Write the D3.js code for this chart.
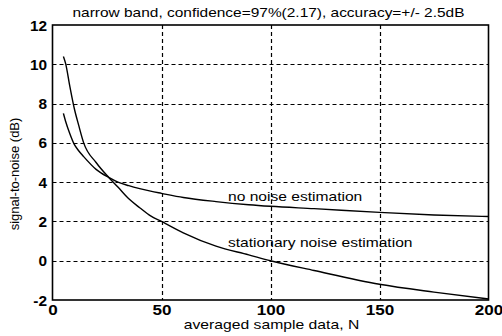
<!DOCTYPE html>
<html>
<head>
<meta charset="utf-8">
<script src="https://cdn.jsdelivr.net/npm/d3@7"></script>
<style>
  html, body { margin: 0; padding: 0; background: #fff; }
  svg { display: block; }
  text { font-family: "Liberation Sans", Arial, sans-serif; fill: #000; }
</style>
</head>
<body>
<svg id="chart" width="502" height="336"></svg>
<script>
// Averaged sample count N at which each curve is sampled
const sampleN = [5, 6, 8, 10, 12, 14.3, 20, 25.8, 30, 35, 40, 45, 50, 60, 75, 90, 100, 120, 150, 175, 200];

// Signal-to-noise (dB) with stationary noise estimation
const stationarySNR = [10.4, 10.05, 8.85, 7.75, 6.9, 6.0, 5.0, 4.24, 3.75, 3.15, 2.7, 2.28, 2.0, 1.42, 0.74, 0.3, 0.0, -0.5, -1.2, -1.6, -1.95];

// Signal-to-noise (dB) with no noise estimation
const noEstimationSNR = [7.5, 7.1, 6.45, 5.92, 5.6, 5.3, 4.65, 4.24, 4.0, 3.82, 3.67, 3.54, 3.43, 3.22, 3.01, 2.85, 2.77, 2.65, 2.46, 2.33, 2.25];

const xTicks = [0, 50, 100, 150, 200];
const yTicks = [-2, 0, 2, 4, 6, 8, 10, 12];

const titleText = "narrow band, confidence=97%(2.17), accuracy=+/- 2.5dB";
const xLabel = "averaged sample data, N";
const yLabel = "signal-to-noise (dB)";
const curveLabels = ["no noise estimation", "stationary noise estimation"];

const svg = d3.select("#chart");
const margin = { left: 52.5, right: 13.5, top: 25, bottom: 36 };
const W = 502, H = 336;
const x = d3.scaleLinear().domain([0, 200]).range([margin.left, W - margin.right]);
const y = d3.scaleLinear().domain([-2, 12]).range([H - margin.bottom, margin.top]);

// Text with a slightly wide face: draw at (px, py) and widen horizontally by sx
function wideText(parent, px, py, str, size, sx, anchor, weight) {
  return parent.append("text")
    .attr("transform", `translate(${px},${py}) scale(${sx},1)`)
    .attr("text-anchor", anchor || "start")
    .attr("font-size", size)
    .attr("font-weight", weight || "normal")
    .text(str);
}

// Dashed grid
const grid = svg.append("g").attr("stroke", "#000").attr("stroke-width", 1.2).attr("stroke-dasharray", "4,3");
grid.selectAll("line.h").data(yTicks.slice(1, -1)).join("line")
  .attr("x1", x(0)).attr("x2", x(200))
  .attr("y1", d => Math.round(y(d)) + 0.5).attr("y2", d => Math.round(y(d)) + 0.5);
grid.selectAll("line.v").data(xTicks.slice(1, -1)).join("line")
  .attr("y1", y(12)).attr("y2", y(-2))
  .attr("x1", d => Math.round(x(d)) + 0.5).attr("x2", d => Math.round(x(d)) + 0.5);

// Axes: tick labels are placed by the axis generator, then widened
const xAxis = d3.axisBottom(x).tickValues(xTicks).tickSize(0).tickPadding(0).tickFormat(d => String(d));
const yAxis = d3.axisLeft(y).tickValues(yTicks).tickSize(0).tickPadding(0).tickFormat(d => String(d));
const gx = svg.append("g").attr("transform", `translate(0,${y(-2)})`).call(xAxis);
const gy = svg.append("g").attr("transform", `translate(${x(0)},0)`).call(yAxis);
[gx, gy].forEach(g => {
  g.select(".domain").remove();
  g.selectAll("text").attr("font-family", "Liberation Sans, Arial, sans-serif")
    .attr("font-size", 14).attr("font-weight", "bold").attr("fill", "#000")
    .attr("dy", null).attr("x", null).attr("y", null);
});
gx.selectAll("text").attr("transform", "translate(0,15) scale(1.22,1)").attr("text-anchor", "middle");
gy.selectAll("text").attr("transform", "translate(-5.5,5) scale(1.1,1)").attr("text-anchor", "end");

// Plot frame
svg.append("rect")
  .attr("x", x(0)).attr("y", y(12))
  .attr("width", x(200) - x(0)).attr("height", y(-2) - y(12))
  .attr("fill", "none").attr("stroke", "#000").attr("stroke-width", 1.6);

// Curves
const line = d3.line().x(d => x(d[0])).y(d => y(d[1])).curve(d3.curveMonotoneX);
[stationarySNR, noEstimationSNR].forEach(series => {
  svg.append("path")
    .datum(sampleN.map((n, i) => [n, series[i]]))
    .attr("d", line)
    .attr("fill", "none").attr("stroke", "#000").attr("stroke-width", 1.4);
});

// Curve annotations
wideText(svg, x(80.5), 200.5, curveLabels[0], 13, 1.2);
wideText(svg, x(80.5), 247, curveLabels[1], 13, 1.2);

// Title and axis labels
wideText(svg, 268.5, 17, titleText, 13, 1.19, "middle");
wideText(svg, 271.5, 329, xLabel, 13, 1.21, "middle");
svg.append("text").attr("transform", "translate(18.5,174) rotate(-90)")
  .attr("text-anchor", "middle").attr("font-size", 13).text(yLabel);
</script>
</body>
</html>
